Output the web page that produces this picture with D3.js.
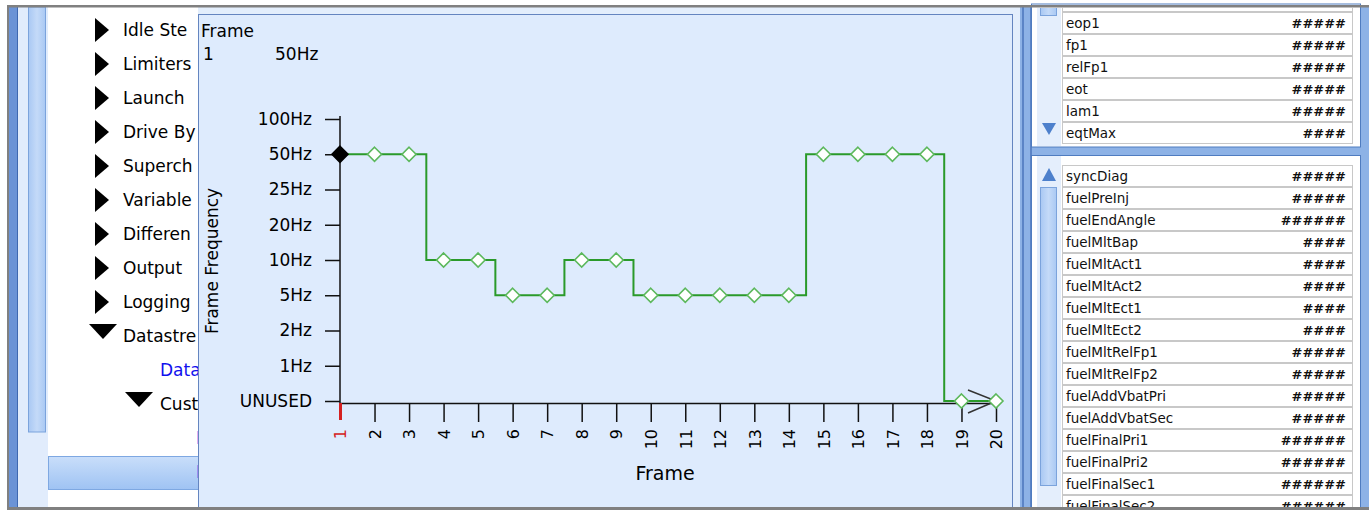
<!DOCTYPE html>
<html><head><meta charset="utf-8">
<script src="https://cdn.jsdelivr.net/npm/d3@7"></script>
<style>
html,body{margin:0;padding:0;background:#fff;overflow:hidden}
svg{display:block;font-family:"DejaVu Sans",Verdana,sans-serif}
</style></head><body>
<svg id="c" width="1369" height="510"></svg>
<script>
// ---- data ----
const levels = ["UNUSED","1Hz","2Hz","5Hz","10Hz","20Hz","25Hz","50Hz","100Hz"];
const frames = [1,2,3,4,5,6,7,8,9,10,11,12,13,14,15,16,17,18,19,20];
const rates = ["50Hz","50Hz","50Hz","10Hz","10Hz","5Hz","5Hz","10Hz","10Hz","5Hz","5Hz","5Hz","5Hz","5Hz","50Hz","50Hz","50Hz","50Hz","UNUSED","UNUSED"];
const selectedFrame = 1;
const treeLabels = ["Idle Ste","Limiters","Launch","Drive By","Superch","Variable","Differen","Output","Logging","Datastre","Data","Cust","D","D","D"];
const treeKinds  = ["c","c","c","c","c","c","c","c","c","o","l","o","l","l","l"];
const treeLevels = [0,0,0,0,0,0,0,0,0,0,1,1,2,2,2];
const upperNames = ["","eop1","fp1","relFp1","eot","lam1","eqtMax"];
const upperVals  = ["","#####","#####","#####","#####","#####","####"];
const lowerNames = ["syncDiag","fuelPreInj","fuelEndAngle","fuelMltBap","fuelMltAct1","fuelMltAct2","fuelMltEct1","fuelMltEct2","fuelMltRelFp1","fuelMltRelFp2","fuelAddVbatPri","fuelAddVbatSec","fuelFinalPri1","fuelFinalPri2","fuelFinalSec1","fuelFinalSec2"];
const lowerVals  = ["#####","#####","######","####","####","####","####","####","#####","#####","#####","#####","######","######","######","######"];

const svg = d3.select("#c");
const defs = svg.append("defs");
const g1 = defs.append("linearGradient").attr("id","selg").attr("x1",0).attr("x2",0).attr("y1",0).attr("y2",1);
g1.append("stop").attr("offset","0%").attr("stop-color","#c9defa");
g1.append("stop").attr("offset","100%").attr("stop-color","#9fc3f3");
const g2 = defs.append("linearGradient").attr("id","thg").attr("x1",0).attr("x2",1).attr("y1",0).attr("y2",0);
g2.append("stop").attr("offset","0%").attr("stop-color","#a9c8f3");
g2.append("stop").attr("offset","50%").attr("stop-color","#c4daf8");
g2.append("stop").attr("offset","100%").attr("stop-color","#a9c8f3");
const g3 = defs.append("linearGradient").attr("id","blk").attr("x1",0).attr("x2",1).attr("y1",0).attr("y2",0);
g3.append("stop").attr("offset","0%").attr("stop-color","#000").attr("stop-opacity",1);
g3.append("stop").attr("offset","70%").attr("stop-color","#000").attr("stop-opacity",0.85);
g3.append("stop").attr("offset","100%").attr("stop-color","#000").attr("stop-opacity",0.15);
defs.append("clipPath").attr("id","cpU").append("rect").attr("x",1033).attr("y",8).attr("width",326).attr("height",138);
defs.append("clipPath").attr("id","cpL").append("rect").attr("x",1033).attr("y",156).attr("width",326).attr("height",360);
defs.append("clipPath").attr("id","cpT").append("rect").attr("x",48).attr("y",7).attr("width",150).attr("height",503);

// ---- left tree panel ----
svg.append("rect").attr("x",9).attr("y",7).attr("width",9).attr("height",503).attr("fill","#6b93d6");
svg.append("rect").attr("x",17).attr("y",7).attr("width",1).attr("height",503).attr("fill","#3f68b0");
svg.append("rect").attr("x",18).attr("y",7).attr("width",30).attr("height",503).attr("fill","#e1ecfc");
svg.append("rect").attr("x",28.5).attr("y",7).attr("width",17).attr("height",425).attr("fill","url(#thg)").attr("stroke","#7ba3dc");
svg.append("rect").attr("x",48).attr("y",7).attr("width",160).attr("height",503).attr("fill","#fff");

const rowY = i => 30 + i*34;
const tree = svg.append("g").attr("clip-path","url(#cpT)");
tree.append("rect").attr("x",48.5).attr("y",456.5).attr("width",160).attr("height",33).attr("fill","url(#selg)").attr("stroke","#7ea8e2");
treeLabels.forEach((t,i)=>{
  const y = rowY(i), k = treeKinds[i], lv = treeLevels[i];
  if (k==="c") {
    tree.append("path").attr("d",`M95,${y-12}L109,${y}L95,${y+12}Z`).attr("fill","#000");
  } else if (k==="o") {
    const x0 = lv===0 ? 89 : 125;
    tree.append("path").attr("d",`M${x0},${y-12}L${x0+28},${y-12}L${x0+14},${y+3}Z`).attr("fill","#000");
  }
  const tx = lv===0 ? 123 : (lv===1 ? 160 : 196);
  if (y < 500) tree.append("text").attr("x",tx).attr("y",y).attr("dy","0.36em")
    .attr("font-size",17).attr("fill", k==="l" ? "#1010ee" : "#000").text(t);
});

// ---- chart container ----
svg.append("rect").attr("x",198).attr("y",7).attr("width",824).attr("height",503).attr("fill","#e3eefc");
svg.append("rect").attr("x",198.5).attr("y",14.5).attr("width",814).attr("height",510).attr("fill","#deebfd").attr("stroke","#6485c0");

const chart = svg.append("g");
chart.append("text").attr("x",201).attr("y",37).attr("font-size",17).text("Frame");
chart.append("text").attr("x",203).attr("y",60).attr("font-size",17).text(String(selectedFrame));
chart.append("text").attr("x",275).attr("y",60).attr("font-size",17).text(rates[selectedFrame-1]);

const x = d3.scaleLinear().domain([1,20]).range([340,996]);
const y = d3.scalePoint().domain(levels).range([401,119]);

const yAxis = chart.append("g").attr("transform","translate(340,0)")
  .call(d3.axisLeft(y).tickSize(15).tickSizeOuter(0).tickPadding(13));
yAxis.select(".domain").attr("d",`M0,404V116`).attr("stroke","#111").attr("stroke-width",1.5);
yAxis.selectAll(".tick line").attr("stroke","#111").attr("stroke-width",1.5);
yAxis.selectAll(".tick text").attr("font-size",17).attr("font-family","DejaVu Sans").attr("fill","#000");

const xAxis = chart.append("g").attr("transform","translate(0,403)")
  .call(d3.axisBottom(x).tickValues(frames).tickSize(19).tickSizeOuter(0).tickFormat(d3.format("d")));
xAxis.select(".domain").attr("stroke","#111").attr("stroke-width",1.5);
xAxis.selectAll(".tick line").attr("stroke","#111").attr("stroke-width",1.5);
xAxis.selectAll(".tick text")
  .attr("font-size",16).attr("font-family","DejaVu Sans").attr("fill","#000")
  .attr("transform","rotate(-90)").attr("text-anchor","end")
  .attr("x",-26).attr("y",0).attr("dy","0.36em");
xAxis.selectAll(".tick").filter(d=>d===selectedFrame).each(function(){
  d3.select(this).select("line").attr("stroke","#d42020").attr("stroke-width",3).attr("y2",17);
  d3.select(this).select("text").attr("fill","#d42020");
});

chart.append("text").attr("transform","translate(218,261) rotate(-90)")
  .attr("text-anchor","middle").attr("font-size",17).text("Frame Frequency");
chart.append("text").attr("x",665).attr("y",480).attr("text-anchor","middle").attr("font-size",19).text("Frame");

const data = frames.map((f,i)=>({frame:f, rate:rates[i]}));
const line = d3.line().x(d=>x(d.frame)).y(d=>y(d.rate)).curve(d3.curveStep);
chart.append("path").datum(data).attr("d",line).attr("fill","none").attr("stroke","#2a9a2a").attr("stroke-width",2);

// selected highlight segment
chart.append("line").attr("x1",x(selectedFrame)).attr("x2",x(selectedFrame+0.8))
  .attr("y1",y(rates[selectedFrame-1])).attr("y2",y(rates[selectedFrame-1]))
  .attr("stroke","url(#blk)").attr("stroke-width",3.5);

// end arrow
const last = data[data.length-1];
const ax = x(last.frame), ay = y(last.rate);
chart.append("path").attr("d",`M${ax-28},${ay-11}L${ax},${ay}L${ax-28},${ay+12}`)
  .attr("fill","none").attr("stroke","#333").attr("stroke-width",1.5);

const diamond = (cx,cy,r)=>`M${cx},${cy-r}L${cx+r},${cy}L${cx},${cy+r}L${cx-r},${cy}Z`;
chart.selectAll("path.pt").data(data).join("path").attr("class","pt")
  .attr("d",d=> diamond(x(d.frame), y(d.rate), d.frame===selectedFrame ? 8 : 7))
  .attr("fill",d=> d.frame===selectedFrame ? "#000" : "#fff")
  .attr("stroke",d=> d.frame===selectedFrame ? "#000" : "#5cb85c")
  .attr("stroke-width",1.6);

// ---- right panels ----
svg.append("rect").attr("x",1020).attr("y",7).attr("width",349).attr("height",503).attr("fill","#8db2e6");
svg.append("rect").attr("x",1022).attr("y",7).attr("width",2).attr("height",503).attr("fill","#5b84c6");
svg.append("rect").attr("x",1030).attr("y",7).attr("width",2).attr("height",503).attr("fill","#5b84c6");
svg.append("rect").attr("x",1031.5).attr("y",4).attr("width",329).attr("height",143).attr("fill","#fff").attr("stroke","#4f7cc0");
svg.append("rect").attr("x",1031.5).attr("y",155.5).attr("width",329).attr("height",360).attr("fill","#fff").attr("stroke","#4f7cc0");

function listPanel(names, vals, top, clip, thumb, arrowUpY, arrowDownY) {
  const gp = svg.append("g").attr("clip-path",`url(#${clip})`);
  gp.append("rect").attr("x",1037).attr("y",top-30).attr("width",24).attr("height",600).attr("fill","#e4eefc");
  if (thumb) gp.append("rect").attr("x",thumb[0]+0.5).attr("y",thumb[1]+0.5).attr("width",16).attr("height",thumb[2]).attr("fill","url(#thg)").attr("stroke","#7ba3dc");
  if (arrowUpY!=null) gp.append("path").attr("d",`M1042,${arrowUpY+13}L1056,${arrowUpY+13}L1049,${arrowUpY}Z`).attr("fill","#4d80cc");
  if (arrowDownY!=null) gp.append("path").attr("d",`M1042,${arrowDownY}L1056,${arrowDownY}L1049,${arrowDownY+12}Z`).attr("fill","#4d80cc");
  names.forEach((n,i)=>{
    const ry = top + i*22;
    gp.append("rect").attr("x",1062.5).attr("y",ry+0.5).attr("width",290).attr("height",21).attr("fill","#fff").attr("stroke","#c8c8c8");
    if (n) {
      gp.append("text").attr("x",1066).attr("y",ry+11).attr("dy","0.36em").attr("font-size",13.5).attr("fill","#111").text(n);
      gp.append("text").attr("x",1346).attr("y",ry+11).attr("dy","0.36em").attr("font-size",13).attr("font-weight","bold")
        .attr("text-anchor","end").attr("fill","#111").text(vals[i]);
    }
  });
}
listPanel(upperNames, upperVals, -10, "cpU", [1040,0,15], null, 123);
listPanel(lowerNames, lowerVals, 165, "cpL", [1040,187,298], 168, null);

// ---- outer frame ----
svg.append("rect").attr("x",7).attr("y",5).attr("width",1362).attr("height",2.5).attr("fill","#808080");
svg.append("rect").attr("x",7).attr("y",5).attr("width",2).attr("height",505).attr("fill","#808080");
svg.append("rect").attr("x",7).attr("y",507).attr("width",1362).attr("height",3).attr("fill","#808080");
</script>
</body></html>
